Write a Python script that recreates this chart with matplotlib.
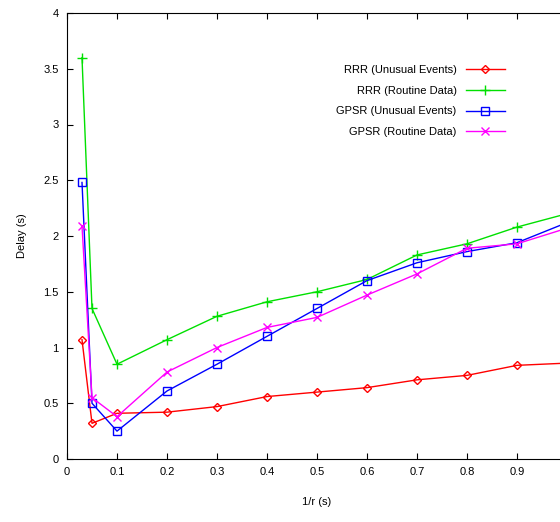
import matplotlib
matplotlib.use('Agg')
import matplotlib.pyplot as plt

x = [0.03, 0.05, 0.1, 0.2, 0.3, 0.4, 0.5, 0.6, 0.7, 0.8, 0.9, 1.0]
rrr_unusual = [1.07, 0.32, 0.41, 0.42, 0.47, 0.56, 0.60, 0.64, 0.71, 0.75, 0.84, 0.86]
rrr_routine = [3.6, 1.35, 0.85, 1.07, 1.28, 1.41, 1.50, 1.61, 1.83, 1.93, 2.08, 2.20]
gpsr_unusual = [2.48, 0.50, 0.25, 0.61, 0.85, 1.10, 1.35, 1.60, 1.76, 1.86, 1.94, 2.12]
gpsr_routine = [2.09, 0.55, 0.38, 0.78, 1.00, 1.18, 1.27, 1.47, 1.66, 1.89, 1.93, 2.07]

plt.rcParams['font.family'] = ['Liberation Sans', 'DejaVu Sans']
plt.rcParams['font.size'] = 8

W, H = 560, 522
fig = plt.figure(figsize=(W / 100, H / 100), dpi=100)
ax = fig.add_axes([67 / W, (H - 459) / H, 500 / W, 446 / H])

ax.plot(x, rrr_unusual, color='#ff0000', marker='D', ms=4, mfc='none', lw=1, label='RRR (Unusual Events)')
ax.plot(x, rrr_routine, color='#00e000', marker='+', ms=7, lw=1, label='RRR (Routine Data)')
ax.plot(x, gpsr_unusual, color='#0000ff', marker='s', ms=6, mfc='none', lw=1, label='GPSR (Unusual Events)')
ax.plot(x, gpsr_routine, color='#ff00ff', marker='x', ms=6, lw=1, label='GPSR (Routine Data)')

ax.set_xlim(0, 1.0)
ax.set_ylim(0, 4)
ax.set_xticks([0, 0.1, 0.2, 0.3, 0.4, 0.5, 0.6, 0.7, 0.8, 0.9])
ax.set_xticklabels(['0', '0.1', '0.2', '0.3', '0.4', '0.5', '0.6', '0.7', '0.8', '0.9'])
ax.set_yticks([0, 0.5, 1, 1.5, 2, 2.5, 3, 3.5, 4])
ax.set_yticklabels(['0', '0.5', '1', '1.5', '2', '2.5', '3', '3.5', '4'])
ax.tick_params(direction='in', top=True, right=True, length=4, width=0.8, pad=6)
ax.set_xlabel('1/r (s)', labelpad=14)
ax.set_ylabel('Delay (s)', labelpad=12)

ax.legend(loc='upper right', bbox_to_anchor=(0.895, 0.905), frameon=False, markerfirst=False,
          handlelength=3.5, labelspacing=0.95, fontsize=8)

fig.savefig('out.png', dpi=100)
